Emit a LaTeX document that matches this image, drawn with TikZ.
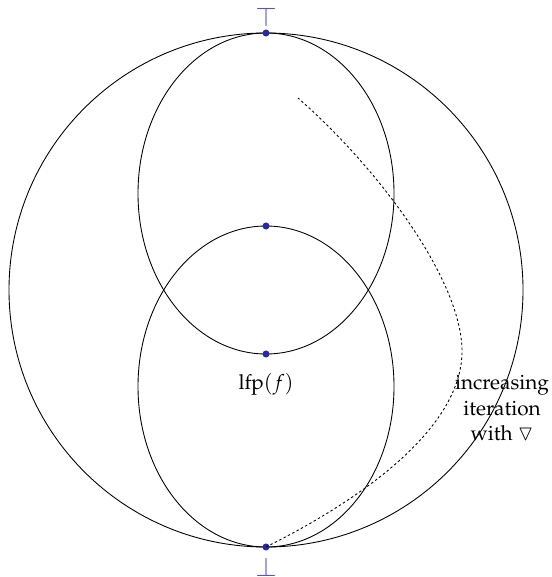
\documentclass[tikz,border=0pt]{standalone}
\usepackage[T1]{fontenc}
\usepackage{mathpazo}
\usepackage{amssymb}
\usepackage{xcolor}
\usepackage{tikz}
\usetikzlibrary{positioning}

\begin{document}
\begin{tikzpicture}[
      x=0.02cm, y=-0.02cm,
      font=\fontsize{11.8}{14.4}\selectfont,
      dot/.style={circle, fill=dotblue, inner sep=0pt, minimum size=4pt},
      bound/.style={text=lattblue, inner sep=0pt, scale=1.25},
      iter/.style={dash pattern=on 1.4pt off 1.4pt, line width=0.5pt},
      lbl/.style={align=center, inner sep=1pt},
    ]
    \definecolor{dotblue}{RGB}{40,40,170}
    \definecolor{lattblue}{RGB}{80,80,225}
    \useasboundingbox (0,0) rectangle (551,577);

    % lattice outline and the two sub-lattices
    \draw[line width=0.5pt] (266,290) circle [radius=257];
    \draw[line width=0.5pt] (266,193.5) ellipse [x radius=128, y radius=160.5];
    \draw[line width=0.5pt] (266,386.5) ellipse [x radius=128, y radius=160.5];

    \node[dot] (top) at (266,33)  {};
    \node[dot] (mid) at (266,226) {};
    \node[dot] (lfp) at (266,354) {};
    \node[dot] (bot) at (266,547) {};

    \node[bound] (topsym) at (266,17)  {$\top$};
    \node[bound] (botsym) at (266,567) {$\bot$};
    \node[below=5pt of lfp] (lfplbl) {lfp$(f)$};

    \coordinate (start) at (298,98);
    \coordinate (turn) at (462,350);
    \draw[iter] (bot.center) .. controls (380,490) and (463,420) .. (turn)
      .. controls (461,280) and (380,170) .. (start);

    \node[lbl] (itlbl) at (502,408) {increasing\\iteration\\with $\triangledown$};
  \end{tikzpicture}
\end{document}
